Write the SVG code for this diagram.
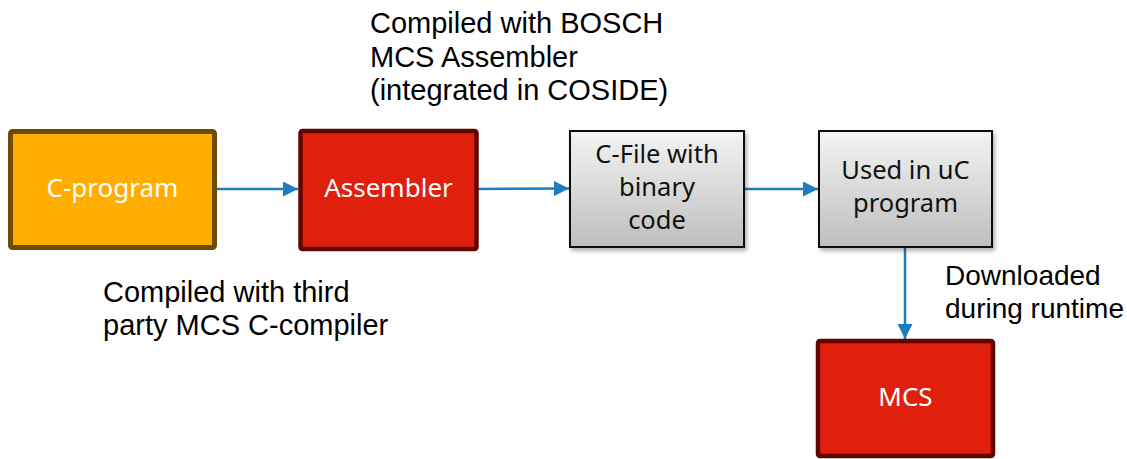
<svg xmlns="http://www.w3.org/2000/svg" width="1127" height="459" viewBox="0 0 1127 459">
<style>
.lbl{font-family:"Noto Sans","Open Sans",sans-serif;font-size:26px;text-anchor:middle}
.lblg{font-family:"Noto Sans","Open Sans",sans-serif;font-size:25.5px;text-anchor:middle;fill:#111111}
.w{fill:#ffffff}
.note{font-family:"Liberation Sans",Arial,sans-serif;font-size:29px;fill:#000000}
.note2{font-family:"Liberation Sans",Arial,sans-serif;font-size:28px;fill:#000000}
.conn{stroke:#1E7DC0;stroke-width:2.5;fill:none}
.gray{fill:url(#g);stroke:#111;stroke-width:2;filter:url(#sh)}
.red{fill:#E01F0C;stroke:#600500;stroke-width:4.5}
</style>
<defs>
<linearGradient id="g" x1="0" y1="0" x2="0" y2="1">
<stop offset="0" stop-color="#F4F4F4"/>
<stop offset="1" stop-color="#BEBEBE"/>
</linearGradient>
<filter id="sh" x="-10%" y="-10%" width="130%" height="130%">
<feDropShadow dx="2" dy="3" stdDeviation="2" flood-color="#000" flood-opacity="0.3"/>
</filter>
<marker id="ah" viewBox="0 0 10 10" refX="10" refY="5" markerWidth="6" markerHeight="6" orient="auto" markerUnits="strokeWidth">
<path d="M0,0 L10,5 L0,10 z" fill="#1E7DC0"/>
</marker>
</defs>
<g id="connectors">
<line class="conn" x1="217" y1="189" x2="298" y2="189" marker-end="url(#ah)"/>
<line class="conn" x1="478" y1="189" x2="569" y2="188.5" marker-end="url(#ah)"/>
<line class="conn" x1="745" y1="189" x2="818" y2="189" marker-end="url(#ah)"/>
<line class="conn" x1="905" y1="248" x2="905" y2="339" marker-end="url(#ah)"/>
</g>
<g id="c-program">
<rect x="10.5" y="131.5" width="204" height="116" rx="2" fill="#FFAE00" stroke="#6E4C00" stroke-width="5"/>
<text class="lbl w" x="112.5" y="197">C-program</text>
</g>
<g id="assembler">
<rect class="red" x="300.5" y="131" width="176" height="118" rx="2"/>
<text class="lbl w" x="388.5" y="197">Assembler</text>
</g>
<g id="c-file">
<rect class="gray" x="570" y="131" width="174" height="116"/>
<text class="lblg" x="657" y="163">C-File with</text>
<text class="lblg" x="657" y="196">binary</text>
<text class="lblg" x="657" y="229">code</text>
</g>
<g id="used-in-uc">
<rect class="gray" x="819" y="131" width="173" height="116"/>
<text class="lblg" x="905.5" y="179">Used in uC</text>
<text class="lblg" x="905.5" y="212">program</text>
</g>
<g id="mcs">
<rect class="red" x="818" y="341" width="175" height="115" rx="2"/>
<text class="lbl w" x="905.5" y="406">MCS</text>
</g>
<g id="notes">
<text class="note" x="370" y="33">Compiled with BOSCH</text>
<text class="note" x="370" y="67">MCS Assembler</text>
<text class="note" x="370" y="100">(integrated in COSIDE)</text>
<text class="note" x="103" y="302">Compiled with third</text>
<text class="note" x="103" y="335">party MCS C-compiler</text>
<text class="note2" x="945" y="285">Downloaded</text>
<text class="note2" x="945" y="318">during runtime</text>
</g>
</svg>
